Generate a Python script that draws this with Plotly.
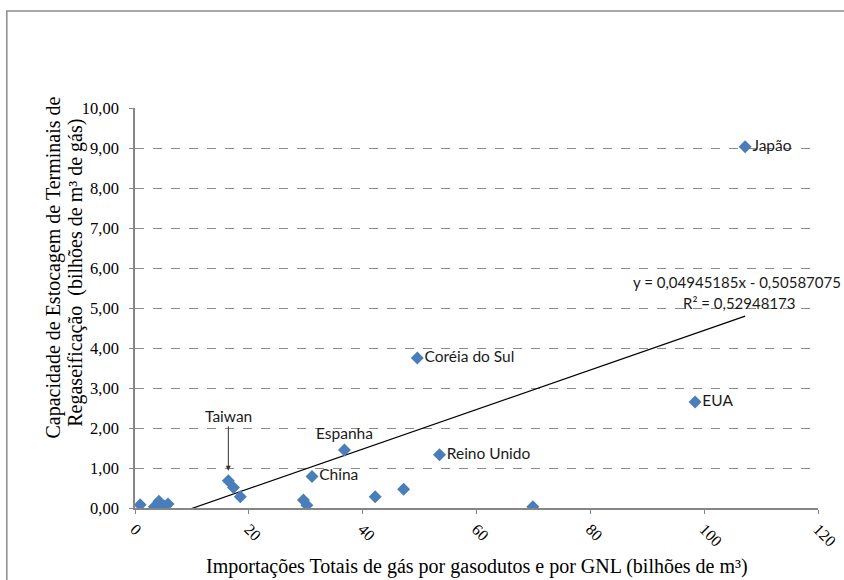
import plotly.graph_objects as go

# Importações (bilhões de m³) e capacidade de estocagem (bilhões de m³ de gás)
countries = ["Japão", "Coréia do Sul", "EUA", "Espanha", "Reino Unido", "China"]
imports_lab = [107.2, 49.6, 98.4, 36.8, 53.5, 31.1]
storage_lab = [9.03, 3.75, 2.65, 1.45, 1.33, 0.79]

taiwan_import = 16.4
taiwan_storage = 0.68

other_imports = [0.9, 3.4, 4.2, 5.1, 5.8, 17.3, 18.5, 29.6, 30.2, 42.2, 47.2, 69.9]
other_storage = [0.08, 0.03, 0.17, 0.05, 0.10, 0.51, 0.28, 0.20, 0.07, 0.28, 0.47, 0.03]

# Linha de tendência linear (coeficientes da equação exibida)
slope = 0.04945185
intercept = -0.50587075
r2 = 0.52948173

x_ticks = [0, 20, 40, 60, 80, 100, 120]
y_ticks = [0, 1, 2, 3, 4, 5, 6, 7, 8, 9, 10]

x_title = "Importações Totais de gás por gasodutos e por GNL (bilhões de m³)"
y_title_lines = ["Capacidade de Estocagem de Terminais de",
                 "Regaseificação  (bilhões de m³ de gás)"]

BLUE = "#4A7EBB"
SANS = "Lato, Carlito, sans-serif"
LABEL_FONT = dict(family=SANS, size=15.5, color="#1a1a1a")
SERIF = "Liberation Serif, Times New Roman, serif"
TITLE_FONT = dict(family=SERIF, size=20, color="#000000")

all_x = imports_lab + [taiwan_import] + other_imports

fig = go.Figure()

# Linha de tendência
x_min, x_max = min(all_x), max(all_x)
fig.add_trace(go.Scatter(
    x=[x_min, x_max],
    y=[slope * x_min + intercept, slope * x_max + intercept],
    mode="lines",
    line=dict(color="#000000", width=1.2),
    hoverinfo="skip",
    showlegend=False,
))

# Pontos sem rótulo
fig.add_trace(go.Scatter(
    x=other_imports + [taiwan_import],
    y=other_storage + [taiwan_storage],
    mode="markers",
    marker=dict(symbol="diamond", size=10, color=BLUE),
    showlegend=False,
))

# Pontos com rótulo
positions = ["middle right", "middle right", "middle right", "top center",
             "middle right", "middle right"]
fig.add_trace(go.Scatter(
    x=imports_lab,
    y=storage_lab,
    mode="markers+text",
    text=countries,
    textposition=positions,
    textfont=LABEL_FONT,
    marker=dict(symbol="diamond", size=10, color=BLUE),
    showlegend=False,
    cliponaxis=False,
))

fig.add_annotation(
    x=taiwan_import, y=0.93, xref="x", yref="y",
    text="Taiwan", showarrow=True,
    ax=0, ay=-55, axref="pixel", ayref="pixel",
    arrowhead=2, arrowsize=1, arrowwidth=1, arrowcolor="#333333",
    font=LABEL_FONT,
)

EQ_FONT = dict(family=SANS, size=15, color="#1a1a1a")
fig.add_annotation(
    x=1.036, y=0.565, xref="paper", yref="paper",
    text=f"y = {slope:.8f}x - {abs(intercept):.8f}".replace(".", ","),
    showarrow=False, xanchor="right", yanchor="middle", font=EQ_FONT,
)
fig.add_annotation(
    x=0.97, y=0.513, xref="paper", yref="paper",
    text=f"R² = {r2:.8f}".replace(".", ","),
    showarrow=False, xanchor="right", yanchor="middle", font=EQ_FONT,
)

# Títulos dos eixos
fig.add_annotation(
    x=0.5, y=-0.145, xref="paper", yref="paper",
    text=x_title, showarrow=False, xanchor="center", yanchor="middle",
    font=TITLE_FONT,
)
for line, px, py in zip(y_title_lines, [-0.1187, -0.0865], [0.601, 0.588]):
    fig.add_annotation(
        x=px, y=py, xref="paper", yref="paper",
        text=line, showarrow=False, xanchor="center", yanchor="middle",
        textangle=-90, font=TITLE_FONT,
    )

# Moldura externa do gráfico
fig.add_shape(
    type="rect", xref="paper", yref="paper",
    x0=-0.1877, x1=1.06, y0=-0.22, y1=1.2425,
    line=dict(color="#8c8c8c", width=1.5), fillcolor="rgba(0,0,0,0)",
    layer="below",
)

fig.update_layout(
    width=844, height=580,
    margin=dict(l=135, r=26, t=108, b=72),
    paper_bgcolor="white", plot_bgcolor="white",
    separators=",.",
    showlegend=False,
    font=dict(family=SERIF, size=16, color="#000000"),
)

fig.update_xaxes(
    range=[0, 120], tickvals=x_ticks, ticktext=[str(v) for v in x_ticks],
    tickangle=45, showgrid=False, zeroline=False, automargin=False,
    showline=True, linecolor="#868686", linewidth=1.5,
    ticks="outside", ticklen=4, tickcolor="#868686",
    tickfont=dict(family=SERIF, size=16, color="#000000"),
)

fig.update_yaxes(
    range=[0, 10], tickvals=y_ticks, tickformat=".2f",
    showgrid=True, gridcolor="#8c8c8c", griddash="dash", gridwidth=1,
    zeroline=False, showline=True, linecolor="#868686", linewidth=1.5,
    ticks="outside", ticklen=4, tickcolor="#868686", automargin=False,
    ticklabelstandoff=7,
    tickfont=dict(family=SERIF, size=16.5, color="#000000"),
)

fig.write_html("out.html")
